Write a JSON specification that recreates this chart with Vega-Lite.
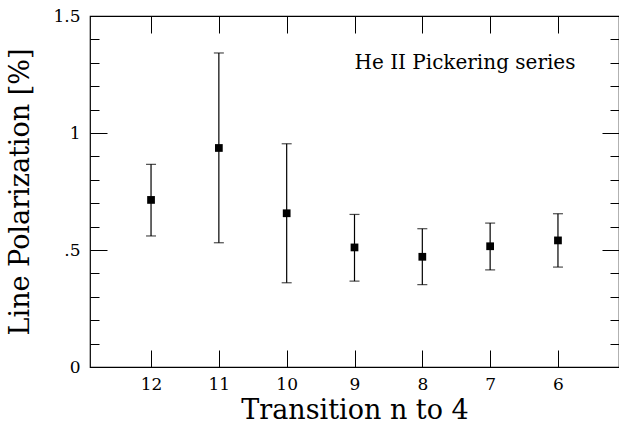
{
  "$schema": "https://vega.github.io/schema/vega-lite/v6.json",
  "autosize": "none",
  "padding": {"left": 90, "top": 16, "right": 0, "bottom": 59},
  "width": 529,
  "height": 351,
  "background": "white",
  "config": {
    "view": {"stroke": "black", "strokeWidth": 1.2},
    "font": "DejaVu Serif",
    "axis": {"domain": false, "grid": false, "tickColor": "black", "tickWidth": 1, "labelColor": "black", "titleColor": "black", "labelFont": "DejaVu Serif", "titleFont": "DejaVu Serif", "titleFontWeight": "normal", "labelFontSize": 17, "titleFontSize": 27}
  },
  "data": {
    "values": [
      {"n": 12, "p": 0.714, "lo": 0.560, "hi": 0.866},
      {"n": 11, "p": 0.936, "lo": 0.531, "hi": 1.342},
      {"n": 10, "p": 0.657, "lo": 0.360, "hi": 0.954},
      {"n": 9, "p": 0.511, "lo": 0.367, "hi": 0.652},
      {"n": 8, "p": 0.471, "lo": 0.352, "hi": 0.591},
      {"n": 7, "p": 0.516, "lo": 0.415, "hi": 0.615},
      {"n": 6, "p": 0.541, "lo": 0.427, "hi": 0.655}
    ]
  },
  "resolve": {"axis": {"x": "independent", "y": "independent"}},
  "layer": [
    {
      "mark": {"type": "rule", "color": "black", "strokeWidth": 1.2},
      "encoding": {
        "x": {"field": "n", "type": "quantitative", "scale": {"domain": [5.1, 12.9], "reverse": true, "nice": false, "zero": false},
          "axis": {"orient": "bottom", "values": [6, 7, 8, 9, 10, 11, 12], "tickSize": -17, "labelPadding": 26, "title": "Transition n to 4", "titlePadding": 5, "labelFlush": false}},
        "y": {"field": "lo", "type": "quantitative", "scale": {"domain": [0, 1.5], "nice": false, "zero": true},
          "axis": {"orient": "left", "values": [0, 0.5, 1, 1.5], "labelExpr": "datum.value == 0 ? '0' : datum.value == 1 ? '1' : datum.value == 1.5 ? '1.5' : '.5'", "tickSize": -17, "labelPadding": 27, "title": "Line Polarization [%]", "titlePadding": 18, "labelFlush": false}},
        "y2": {"field": "hi"}
      }
    },
    {
      "mark": {"type": "tick", "orient": "horizontal", "color": "black", "size": 10, "thickness": 1.2},
      "encoding": {
        "x": {"field": "n", "type": "quantitative", "axis": {"orient": "top", "values": [6, 7, 8, 9, 10, 11, 12], "tickSize": -17, "labels": false, "title": null}},
        "y": {"field": "lo", "type": "quantitative", "axis": {"orient": "right", "values": [0, 0.5, 1, 1.5], "tickSize": -17, "labels": false, "title": null}}
      }
    },
    {
      "mark": {"type": "tick", "orient": "horizontal", "color": "black", "size": 10, "thickness": 1.2},
      "encoding": {
        "x": {"field": "n", "type": "quantitative", "axis": null},
        "y": {"field": "hi", "type": "quantitative", "axis": {"orient": "left", "values": [0.1, 0.2, 0.3, 0.4, 0.6, 0.7, 0.8, 0.9, 1.1, 1.2, 1.3, 1.4], "tickSize": -9, "labels": false, "title": null}}
      }
    },
    {
      "mark": {"type": "point", "shape": "square", "filled": true, "color": "black", "size": 60, "opacity": 1},
      "encoding": {
        "x": {"field": "n", "type": "quantitative", "axis": null},
        "y": {"field": "p", "type": "quantitative", "axis": {"orient": "right", "values": [0.1, 0.2, 0.3, 0.4, 0.6, 0.7, 0.8, 0.9, 1.1, 1.2, 1.3, 1.4], "tickSize": -9, "labels": false, "title": null}}
      }
    },
    {
      "data": {"values": [{"tx": 9.0, "ty": 1.274, "label": "He II Pickering series"}]},
      "mark": {"type": "text", "align": "left", "baseline": "alphabetic", "font": "DejaVu Serif", "fontSize": 20, "color": "black"},
      "encoding": {
        "x": {"field": "tx", "type": "quantitative", "axis": null},
        "y": {"field": "ty", "type": "quantitative", "axis": null},
        "text": {"field": "label"}
      }
    }
  ]
}
